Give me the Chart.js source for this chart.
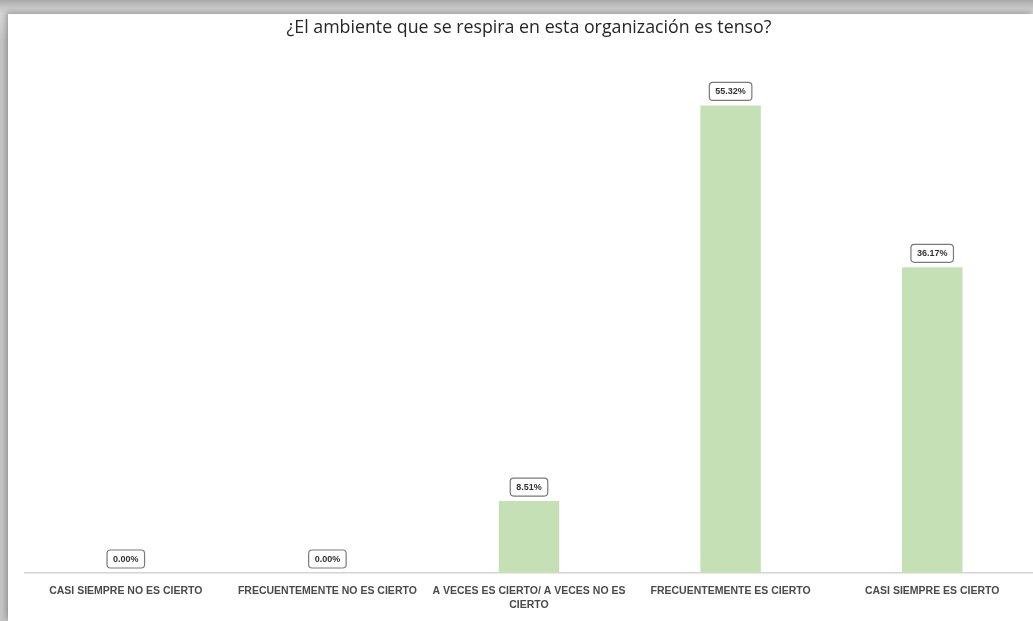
<!DOCTYPE html>
<html>
<head>
<meta charset="utf-8">
<script src="https://cdn.jsdelivr.net/npm/chart.js@4.4.1/dist/chart.umd.min.js"></script>
<style>
  html, body { margin: 0; padding: 0; }
  body {
    width: 1033px; height: 621px; overflow: hidden;
    background: linear-gradient(to bottom, #a9a9a9 0px, #c8c8c8 8px, #d6d6d6 14px, #c4c4c4 40px, #c4c4c4 100%);
    position: relative;
  }
  #frame {
    position: absolute; left: 8px; top: 14px; width: 1025px; height: 607px;
    background: #ffffff;
    box-shadow: -2px -2px 5px rgba(0,0,0,0.25);
  }
  #chart { display: block; }
</style>
</head>
<body>
<div id="frame"><canvas id="chart" width="1025" height="607"></canvas></div>
<script>
// Respuestas a la pregunta sobre el ambiente de la organización
const categories = [
    'CASI SIEMPRE NO ES CIERTO',
    'FRECUENTEMENTE NO ES CIERTO',
    ['A VECES ES CIERTO/ A VECES NO ES', 'CIERTO'],
    'FRECUENTEMENTE ES CIERTO',
    'CASI SIEMPRE ES CIERTO'
];
const percentages = [0.00, 0.00, 8.51, 55.32, 36.17];
const chartTitle = '¿El ambiente que se respira en esta organización es tenso?';

const BAR_GREEN = '#c5e0b4';
const TEXT_GREY = '#4a4a4a';

// etiqueta con recuadro redondeado encima de cada barra
const boxLabels = {
    id: 'boxLabels',
    afterDatasetsDraw(chart) {
        const ctx = chart.ctx;
        const meta = chart.getDatasetMeta(0);
        ctx.save();
        ctx.font = 'bold 9px "Liberation Sans", Arial, sans-serif';
        ctx.textAlign = 'center';
        ctx.textBaseline = 'middle';
        meta.data.forEach(function(bar, i) {
            var txt = percentages[i].toFixed(2) + '%';
            var w = ctx.measureText(txt).width + 12;
            var h = 18;
            var cx = bar.x, cy = bar.y - 5 - h / 2;
            ctx.beginPath();
            ctx.roundRect(cx - w / 2, cy - h / 2, w, h, 3.5);
            ctx.fillStyle = '#ffffff';
            ctx.fill();
            ctx.lineWidth = 1.2;
            ctx.strokeStyle = '#7a7a7a';
            ctx.stroke();
            ctx.fillStyle = '#333333';
            ctx.fillText(txt, cx, cy + 0.5);
        });
        ctx.restore();
    }
};

new Chart(document.getElementById('chart').getContext('2d'), {
    type: 'bar',
    data: {
        labels: categories,
        datasets: [{
            data: percentages,
            backgroundColor: BAR_GREEN,
            borderWidth: 0,
            barPercentage: 0.3,
            categoryPercentage: 1.0
        }]
    },
    plugins: [boxLabels],
    options: {
        responsive: false,
        animation: false,
        layout: { padding: { left: 17, right: 0, top: 0, bottom: 0 } },
        plugins: {
            legend: { display: false },
            tooltip: { enabled: false },
            title: {
                display: true,
                text: chartTitle,
                color: '#262626',
                font: { family: '"Open Sans", sans-serif', size: 17.8, weight: 'normal' },
                padding: { top: 3.5, bottom: 27 }
            }
        },
        scales: {
            x: {
                grid: { display: false, drawTicks: false },
                border: { display: true, color: '#d4d4d4', width: 1.5 },
                ticks: {
                    color: TEXT_GREY,
                    font: { family: '"Liberation Sans", Arial, sans-serif', size: 10.5, weight: 'bold', lineHeight: 1.25 },
                    padding: 12,
                    maxRotation: 0,
                    autoSkip: false
                },
                afterFit: function(scale) { scale.height = 48; }
            },
            y: {
                display: false,
                min: 0,
                max: 60
            }
        }
    }
});
</script>
</body>
</html>
